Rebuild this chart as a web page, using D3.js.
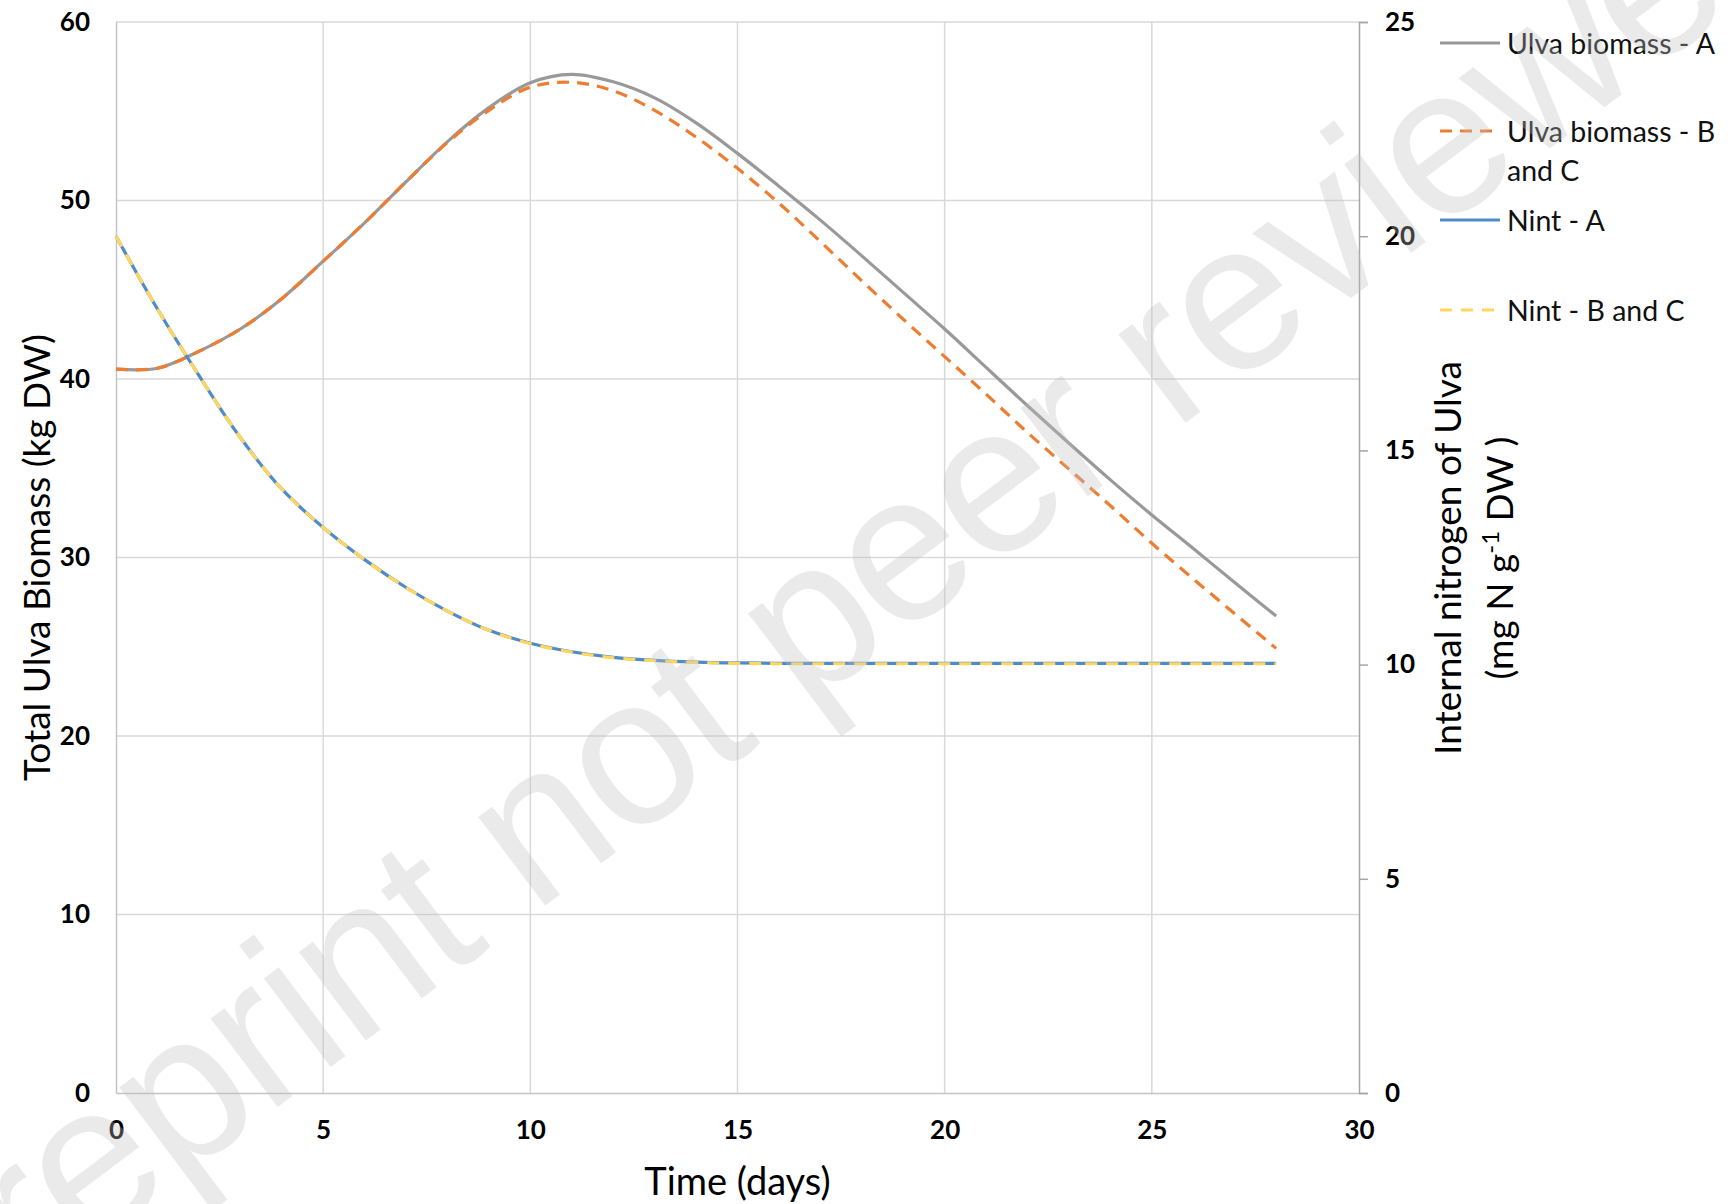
<!DOCTYPE html>
<html>
<head>
<meta charset="utf-8">
<script src="https://cdn.jsdelivr.net/npm/d3@7"></script>
<style>
body { margin: 0; background: #fff; }
text { font-family: Lato, "Open Sans", sans-serif; }
</style>
</head>
<body>
<div id="chart"></div>
<script>
// values, one per day
const days   = [0, 1, 2, 3, 4, 5, 6, 7, 8, 9, 10, 11, 12, 13, 14, 15, 16, 17, 18, 19, 20, 21, 22, 23, 24, 25, 26, 27, 28];
const ulvaA  = [40.55, 40.6, 41.55, 42.8, 44.5, 46.6, 48.75, 51.05, 53.3, 55.2, 56.6, 57.07, 56.65, 55.75, 54.35, 52.64, 50.8, 48.9, 46.9, 44.85, 42.8, 40.65, 38.5, 36.4, 34.35, 32.38, 30.5, 28.6, 26.72];
const ulvaBC = [40.55, 40.6, 41.55, 42.8, 44.5, 46.6, 48.75, 51.05, 53.25, 55.05, 56.35, 56.62, 56.15, 55.05, 53.55, 51.8, 49.85, 47.7, 45.5, 43.35, 41.25, 39.15, 37.0, 34.95, 32.9, 30.8, 28.8, 26.85, 24.91];
const nintA  = [20.0, 18.3, 16.75, 15.3, 14.1, 13.2, 12.45, 11.8, 11.25, 10.8, 10.5, 10.3, 10.17, 10.1, 10.06, 10.04, 10.03, 10.03, 10.03, 10.03, 10.03, 10.03, 10.03, 10.03, 10.03, 10.03, 10.03, 10.03, 10.03];
const nintBC = [20.0, 18.3, 16.75, 15.3, 14.1, 13.2, 12.45, 11.8, 11.25, 10.8, 10.49, 10.29, 10.16, 10.09, 10.05, 10.03, 10.02, 10.02, 10.02, 10.02, 10.02, 10.02, 10.02, 10.02, 10.02, 10.02, 10.02, 10.02, 10.02];

const xTicks = [0, 5, 10, 15, 20, 25, 30];
const leftTicks = [0, 10, 20, 30, 40, 50, 60];
const rightTicks = [0, 5, 10, 15, 20, 25];
const seriesNames = ["Ulva biomass - A", "Ulva biomass - B and C", "Nint - A", "Nint - B and C"];

const W = 1730, H = 1204;
const pLeft = 116, pRight = 1359, pTop = 22, pBottom = 1093;

const x = d3.scaleLinear().domain([0, 30]).range([pLeft, pRight]);
const yLeft = d3.scaleLinear().domain([0, 60]).range([pBottom, pTop]);
const yRight = d3.scaleLinear().domain([0, 25]).range([pBottom, pTop]);

const svg = d3.select("#chart")
  .append("svg")
  .attr("width", W)
  .attr("height", H);

svg.append("rect").attr("width", W).attr("height", H).attr("fill", "#fff");

// grid
svg.append("g").selectAll("line")
  .data(xTicks.slice(1, -1))
  .join("line")
  .attr("x1", d => x(d)).attr("x2", d => x(d))
  .attr("y1", pTop).attr("y2", pBottom)
  .attr("stroke", "#d9d9d9").attr("stroke-width", 1.5);

svg.append("g").selectAll("line")
  .data(leftTicks.slice(1))
  .join("line")
  .attr("x1", pLeft).attr("x2", pRight)
  .attr("y1", d => yLeft(d)).attr("y2", d => yLeft(d))
  .attr("stroke", "#d9d9d9").attr("stroke-width", 1.5);

// axes
const gLeft = svg.append("g")
  .attr("transform", `translate(${pLeft},0)`)
  .call(d3.axisLeft(yLeft).tickValues(leftTicks).tickSize(0).tickPadding(26));

const gBottom = svg.append("g")
  .attr("transform", `translate(0,${pBottom})`)
  .call(d3.axisBottom(x).tickValues(xTicks).tickSize(0).tickPadding(28));

const gRight = svg.append("g")
  .attr("transform", `translate(${pRight},0)`)
  .call(d3.axisRight(yRight).tickValues(rightTicks).tickSize(9).tickPadding(17).tickSizeOuter(9));

[gLeft, gBottom].forEach(g => g.select(".domain").attr("stroke", "#c4c4c4").attr("stroke-width", 1.5));
gRight.select(".domain").attr("stroke", "#a6a6a6").attr("stroke-width", 1.5);
gRight.selectAll(".tick line").attr("stroke", "#a6a6a6").attr("stroke-width", 1.5);

[gLeft, gBottom, gRight].forEach(g => {
  g.selectAll(".tick text")
    .attr("font-size", 26)
    .attr("font-weight", "bold")
    .attr("fill", "#000")
    .style("font-family", "Lato, sans-serif");
});

// series
const lineLeft = data => d3.line()
  .x((d, i) => x(days[i]))
  .y(d => yLeft(d))
  .curve(d3.curveCatmullRom.alpha(0.5))(data);
const lineRight = data => d3.line()
  .x((d, i) => x(days[i]))
  .y(d => yRight(d))
  .curve(d3.curveCatmullRom.alpha(0.5))(data);

const series = [
  { name: seriesNames[0], path: lineLeft(ulvaA),  color: "#999999", dash: null },
  { name: seriesNames[1], path: lineLeft(ulvaBC), color: "#ed7d31", dash: "12,8" },
  { name: seriesNames[2], path: lineRight(nintA), color: "#4f8bc9", dash: null },
  { name: seriesNames[3], path: lineRight(nintBC), color: "#ffd75e", dash: "12,9" }
];

svg.append("g").selectAll("path")
  .data(series)
  .join("path")
  .attr("d", d => d.path)
  .attr("fill", "none")
  .attr("stroke", d => d.color)
  .attr("stroke-width", 3.2)
  .attr("stroke-dasharray", d => d.dash);

// axis titles
svg.append("text")
  .attr("transform", `translate(35,${(pTop + pBottom) / 2}) rotate(-90)`)
  .attr("text-anchor", "middle")
  .attr("dominant-baseline", "central")
  .attr("font-size", 37)
  .text("Total Ulva Biomass (kg DW)");

svg.append("text")
  .attr("x", (pLeft + pRight) / 2)
  .attr("y", 1180)
  .attr("text-anchor", "middle")
  .attr("dominant-baseline", "central")
  .attr("font-size", 38)
  .text("Time (days)");

const rt = svg.append("text")
  .attr("transform", `translate(1448,558) rotate(-90)`)
  .attr("text-anchor", "middle")
  .attr("font-size", 37);
rt.append("tspan").attr("x", 0).attr("dy", "0.35em").text("Internal nitrogen of Ulva");
const l2 = rt.append("tspan").attr("x", 0).attr("dy", 52);
l2.append("tspan").text("(mg N g");
l2.append("tspan").attr("font-size", 24).attr("dy", -14).text("-1");
l2.append("tspan").attr("dy", 14).text(" DW )");

// legend
const legendY = [43, 131, 220, 310];
const lg = svg.append("g");
series.forEach((s, i) => {
  lg.append("line")
    .attr("x1", 1440).attr("x2", 1500)
    .attr("y1", legendY[i]).attr("y2", legendY[i])
    .attr("stroke", s.color)
    .attr("stroke-width", 3.2)
    .attr("stroke-dasharray", s.dash);
});
const legendLines = [["Ulva biomass - A"], ["Ulva biomass - B", "and C"], ["Nint - A"], ["Nint - B and C"]];
legendLines.forEach((lines, i) => {
  lines.forEach((t, j) => {
    lg.append("text")
      .attr("x", 1507)
      .attr("y", legendY[i] + j * 39)
      .attr("dominant-baseline", "central")
      .attr("font-size", 28.5)
      .attr("fill", "#111")
      .text(t);
  });
});

// watermark
svg.append("text")
  .attr("transform", "translate(830,600) rotate(-37)")
  .attr("text-anchor", "middle")
  .attr("dominant-baseline", "central")
  .attr("font-size", 210)
  .attr("letter-spacing", -3)
  .style("font-family", "'Liberation Sans', Arial, sans-serif")
  .attr("fill", "#bebebe")
  .attr("fill-opacity", 0.33)
  .text("Preprint not peer reviewed");
</script>
</body>
</html>
